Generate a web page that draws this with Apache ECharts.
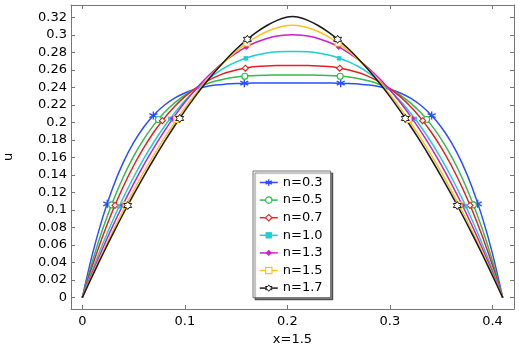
<!DOCTYPE html>
<html><head><meta charset="utf-8">
<script src="https://cdn.jsdelivr.net/npm/echarts@6/dist/echarts.min.js"></script>
<style>html,body{margin:0;padding:0;background:#fff}#c{width:519px;height:344px}</style>
</head><body><div id="c"></div><script>
// x positions across the channel
const xs = [0,0.01,0.02,0.03,0.04,0.05,0.06,0.07,0.08,0.09,0.1,0.11,0.12,0.13,0.14,0.15,0.16,0.17,0.18,0.19,0.2,0.205,0.21,0.22,0.23,0.24,0.25,0.26,0.27,0.28,0.29,0.3,0.31,0.32,0.33,0.34,0.35,0.36,0.37,0.38,0.39,0.4,0.41];
// velocity u for each n
const u03 = [0,0.0502,0.0919,0.1263,0.1543,0.1769,0.1948,0.2088,0.2196,0.2277,0.2336,0.2378,0.2407,0.2426,0.2437,0.2444,0.2448,0.2449,0.2450,0.2450,0.2450,0.2450,0.2450,0.2450,0.2450,0.2449,0.2448,0.2444,0.2437,0.2426,0.2407,0.2378,0.2336,0.2277,0.2196,0.2088,0.1948,0.1769,0.1543,0.1263,0.0919,0.0502,0];
const u05 = [0,0.0419,0.0785,0.1103,0.1377,0.1612,0.1810,0.1975,0.2112,0.2223,0.2312,0.2381,0.2433,0.2472,0.2499,0.2518,0.2529,0.2536,0.2539,0.2540,0.2540,0.2540,0.2540,0.2540,0.2539,0.2536,0.2529,0.2518,0.2499,0.2472,0.2433,0.2381,0.2312,0.2223,0.2112,0.1975,0.1810,0.1612,0.1377,0.1103,0.0785,0.0419,0];
const u07 = [0,0.0369,0.0702,0.1002,0.1268,0.1505,0.1712,0.1893,0.2049,0.2182,0.2294,0.2386,0.2461,0.2520,0.2566,0.2599,0.2622,0.2637,0.2645,0.2649,0.2650,0.2650,0.2650,0.2649,0.2645,0.2637,0.2622,0.2599,0.2566,0.2520,0.2461,0.2386,0.2294,0.2182,0.2049,0.1893,0.1712,0.1505,0.1268,0.1002,0.0702,0.0369,0];
const u10 = [0,0.0318,0.0614,0.0888,0.1141,0.1374,0.1586,0.1779,0.1953,0.2108,0.2246,0.2366,0.2470,0.2558,0.2632,0.2691,0.2736,0.2770,0.2792,0.2805,0.2810,0.2810,0.2810,0.2805,0.2792,0.2770,0.2736,0.2691,0.2632,0.2558,0.2470,0.2366,0.2246,0.2108,0.1953,0.1779,0.1586,0.1374,0.1141,0.0888,0.0614,0.0318,0];
const u13 = [0,0.0290,0.0564,0.0824,0.1069,0.1299,0.1515,0.1715,0.1901,0.2072,0.2229,0.2371,0.2498,0.2610,0.2709,0.2792,0.2862,0.2917,0.2958,0.2985,0.2998,0.3000,0.2998,0.2985,0.2958,0.2917,0.2862,0.2792,0.2709,0.2610,0.2498,0.2371,0.2229,0.2072,0.1901,0.1715,0.1515,0.1299,0.1069,0.0824,0.0564,0.0290,0];
const u15 = [0,0.0265,0.0519,0.0763,0.0997,0.1219,0.1431,0.1632,0.1821,0.1999,0.2165,0.2319,0.2461,0.2591,0.2708,0.2811,0.2901,0.2976,0.3037,0.3080,0.3106,0.3110,0.3106,0.3080,0.3037,0.2976,0.2901,0.2811,0.2708,0.2591,0.2461,0.2319,0.2165,0.1999,0.1821,0.1632,0.1431,0.1219,0.0997,0.0763,0.0519,0.0265,0];
const u17 = [0,0.0251,0.0495,0.0730,0.0957,0.1175,0.1385,0.1585,0.1777,0.1959,0.2131,0.2294,0.2446,0.2587,0.2716,0.2834,0.2939,0.3030,0.3106,0.3165,0.3203,0.3210,0.3203,0.3165,0.3106,0.3030,0.2939,0.2834,0.2716,0.2587,0.2446,0.2294,0.2131,0.1959,0.1777,0.1585,0.1385,0.1175,0.0957,0.0730,0.0495,0.0251,0];
// marker positions
const m03x = [0.0244,0.0693,0.158,0.252,0.3407,0.3856], m03y = [0.107,0.2078,0.2448,0.2448,0.2078,0.107];
const m05x = [0.0286,0.0742,0.1585,0.2515,0.3358,0.3814], m05y = [0.1058,0.2033,0.2527,0.2527,0.2033,0.1058];
const m07x = [0.0319,0.0781,0.159,0.251,0.3319,0.3781], m07y = [0.1053,0.2019,0.2619,0.2619,0.2019,0.1053];
const m10x = [0.0361,0.0856,0.1595,0.2505,0.3244,0.3739], m10y = [0.1042,0.2040,0.2731,0.2731,0.2040,0.1042];
const m13x = [0.0394,0.0882,0.160,0.250,0.3218,0.3706], m13y = [0.1054,0.2041,0.2862,0.2862,0.2041,0.1054];
const m15x = [0.0427,0.0921,0.1605,0.2495,0.3179,0.3673], m15y = [0.1057,0.2034,0.2906,0.2906,0.2034,0.1057];
const m17x = [0.0443,0.0950,0.161,0.249,0.315,0.3657], m17y = [0.1051,0.2045,0.2948,0.2948,0.2045,0.1051];
const names = ['n=0.3','n=0.5','n=0.7','n=1.0','n=1.3','n=1.5','n=1.7'];

const ASTER = 'path://M0,-10L0,10M-8.66,-5L8.66,5M-8.66,5L8.66,-5';
const HEX = 'path://M0,-10L2.885,-5L8.66,-5L5.77,0L8.66,5L2.885,5L0,10L-2.885,5L-8.66,5L-5.77,0L-8.66,-5L-2.885,-5Z';
const styles = [
  {c:'#2b4fff', sym:ASTER, size:8, fill:'#2b4fff', bw:1.4},
  {c:'#33bb4d', sym:'circle', size:6, fill:'#ffffff', bw:1.2},
  {c:'#e62020', sym:'diamond', size:6, fill:'#ffffff', bw:1.1},
  {c:'#1ecfcf', sym:'rect', size:4.5, fill:'#1ecfcf', bw:0},
  {c:'#cc1fcc', sym:'diamond', size:6, fill:'#cc1fcc', bw:0},
  {c:'#ffc21a', sym:'rect', size:6, fill:'#ffffff', bw:1.2},
  {c:'#1a1a1a', sym:HEX, size:8, fill:'#ffffff', bw:1.0}
];
const ys = [u03,u05,u07,u10,u13,u15,u17];
const mxs = [m03x,m05x,m07x,m10x,m13x,m15x,m17x];
const mys = [m03y,m05y,m07y,m10y,m13y,m15y,m17y];
const pairs = (a,b) => a.map((v,i)=>[v,b[i]]);
const FONT = 'DejaVu Sans';
const frame = '#777777';

const series = [];
names.forEach((n,i)=>{
  const s = styles[i];
  series.push({
    name:n, type:'line', data:pairs(xs,ys[i]), smooth:0.35, showSymbol:false,
    symbol:s.sym, symbolSize:s.size,
    lineStyle:{color:s.c, width:1.5},
    itemStyle:{color:s.fill, borderColor:s.c, borderWidth:s.bw},
    emphasis:{disabled:true}, z:2
  });
});
names.forEach((n,i)=>{
  const s = styles[i];
  series.push({
    name:n+' m', type:'scatter', data:pairs(mxs[i],mys[i]),
    symbol:s.sym, symbolSize:s.size,
    itemStyle:{color:s.fill, borderColor:s.c, borderWidth:s.bw, opacity:1},
    emphasis:{disabled:true}, z:3
  });
});

const axisCommon = {
  axisLine:{show:true, onZero:false, lineStyle:{color:frame, width:1}},
  axisTick:{show:true, inside:true, length:4, lineStyle:{color:frame}},
  splitLine:{show:false}
};
const chart = echarts.init(document.getElementById('c'));
chart.setOption({
  animation:false,
  backgroundColor:'#fff',
  grid:{left:71, right:5, top:5, bottom:35, containLabel:false, outerBoundsMode:'none'},
  xAxis:[
    Object.assign({type:'value', min:-0.011, max:0.421, splitNumber:5, position:'bottom',
      axisLabel:{color:'#000', fontSize:13, fontFamily:FONT, margin:6, showMinLabel:false, showMaxLabel:false},
      name:'x=1.5', nameLocation:'middle', nameGap:18, nameTextStyle:{color:'#000', fontSize:13, fontFamily:FONT}}, axisCommon),
    Object.assign({type:'value', min:-0.011, max:0.421, splitNumber:5, position:'top', axisLabel:{show:false}}, axisCommon)
  ],
  yAxis:[
    Object.assign({type:'value', min:-0.013, max:0.334, splitNumber:17, position:'left',
      axisLabel:{color:'#000', fontSize:13, fontFamily:FONT, margin:4, showMinLabel:false, showMaxLabel:false},
      name:'u', nameLocation:'middle', nameGap:56, nameRotate:90, nameTextStyle:{color:'#000', fontSize:13, fontFamily:FONT}}, axisCommon),
    Object.assign({type:'value', min:-0.013, max:0.334, splitNumber:17, position:'right', axisLabel:{show:false}}, axisCommon)
  ],
  legend:{
    orient:'vertical', left:253, top:171, padding:[5,8,3,6], itemGap:4.6, itemWidth:18, itemHeight:8,
    backgroundColor:'#fff', borderColor:frame, borderWidth:1, borderRadius:0,
    shadowColor:'rgba(0,0,0,0.5)', shadowOffsetX:2, shadowOffsetY:2, shadowBlur:1,
    textStyle:{color:'#000', fontSize:13, fontFamily:FONT},
    data:names.map((n,i)=>({name:n,
      itemStyle:{color:styles[i].fill, borderColor:styles[i].c, borderWidth:styles[i].bw},
      lineStyle:{color:styles[i].c, width:1.5}}))
  },
  series:series
});
</script></body></html>
